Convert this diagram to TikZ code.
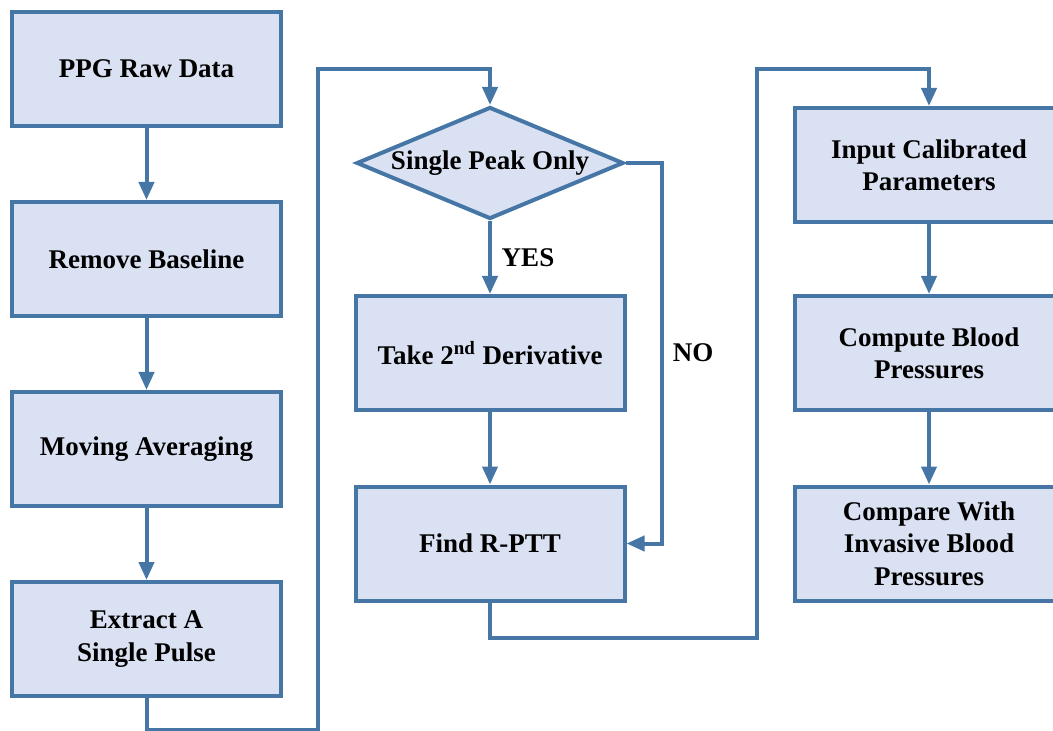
\documentclass[tikz,border=0pt]{standalone}
\usepackage{fontspec}
\setmainfont{Liberation Serif}
\usetikzlibrary{shapes.geometric,arrows.meta}
\definecolor{edgeblue}{RGB}{70,118,166}
\definecolor{fillblue}{RGB}{218,225,242}
\begin{document}
\begin{tikzpicture}[x=0.5pt,y=-0.5pt,
  procbox/.style={draw=edgeblue,fill=fillblue,line width=2pt,rectangle,inner sep=0pt,
    minimum width=134.5pt,minimum height=57pt,align=center,
    font=\fontsize{13.5}{16.2}\selectfont\bfseries},
  decbox/.style={draw=edgeblue,fill=fillblue,line width=2pt,diamond,inner sep=0pt,aspect=2.38,
    minimum width=133.5pt,minimum height=56pt,align=center,
    font=\fontsize{13.5}{16.2}\selectfont\bfseries},
  conn/.style={draw=edgeblue,line width=2pt,-{Triangle[length=9pt,width=7.5pt]}},
  lbl/.style={font=\fontsize{13.5}{16.2}\selectfont\bfseries,inner sep=0pt}]
\useasboundingbox (0,0) rectangle (1053,731);
\clip (0,0) rectangle (1053,731);
% left column
\node[procbox] (raw) at (146.5,69) {PPG Raw Data};
\node[procbox] (base) at (146.5,259) {Remove Baseline};
\node[procbox] (avg) at (146.5,449) {Moving Averaging};
\node[procbox] (pulse) at (146.5,639) {Extract A\\Single Pulse};
% middle column
\node[decbox] (peak) at (490,163) {Single Peak Only};
\node[procbox] (deriv) at (490,353) {Take 2\textsuperscript{nd} Derivative};
\node[procbox] (ptt) at (490,543.5) {Find R-PTT};
% right column
\node[procbox] (calib) at (929,165) {Input Calibrated\\Parameters};
\node[procbox] (comp) at (929,353) {Compute Blood\\Pressures};
\node[procbox] (cmpw) at (929,543.5) {Compare With\\Invasive Blood\\Pressures};
% routing coordinates
\coordinate (b1) at (146.5,730);
\coordinate (b2) at (318,730);
\coordinate (b3) at (318,69);
\coordinate (b4) at (490,69);
\coordinate (n1) at (662,163);
\coordinate (n2) at (662,543.5);
\coordinate (r1) at (490,638);
\coordinate (r2) at (757,638);
\coordinate (r3) at (757,69);
\coordinate (r4) at (929,69);
% connectors
\draw[conn] (raw) -- (base);
\draw[conn] (base) -- (avg);
\draw[conn] (avg) -- (pulse);
\draw[conn] (pulse.south) -- (b1) -- (b2) -- (b3) -- (b4) -- (peak.north);
\draw[conn] (peak.south) -- (deriv.north);
\draw[conn] (deriv) -- (ptt);
\draw[conn] (peak.east) -- (n1) -- (n2) -- (ptt.east);
\draw[conn] (ptt.south) -- (r1) -- (r2) -- (r3) -- (r4) -- (calib.north);
\draw[conn] (calib) -- (comp);
\draw[conn] (comp) -- (cmpw);
% labels
\node[lbl] (yes) at (528,258) {YES};
\node[lbl] (no) at (693,353) {NO};
\end{tikzpicture}
\end{document}
